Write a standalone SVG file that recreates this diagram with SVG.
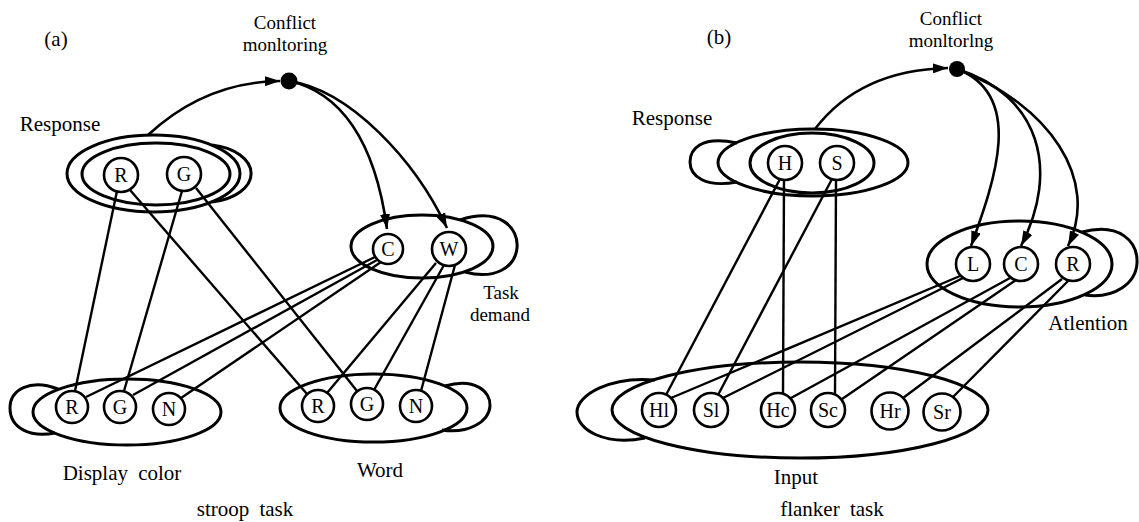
<svg xmlns="http://www.w3.org/2000/svg" width="1139" height="522" viewBox="0 0 1139 522">
<style>
.e{fill:none;stroke:#000;stroke-width:3}
.u{fill:#fff;stroke:#000;stroke-width:2.6}
.l{fill:none;stroke:#000;stroke-width:2.4}
.a{fill:none;stroke:#000;stroke-width:2.6;marker-end:url(#ah)}
text{font-family:"Liberation Serif","Times New Roman",serif;font-size:21px;fill:#000;text-anchor:middle}
.t{font-size:20px}
.s{font-size:19px}
</style>
<defs>
<marker id="ah" markerUnits="userSpaceOnUse" markerWidth="16" markerHeight="10" refX="15" refY="5" orient="auto"><path d="M0,0 L15,5 L0,10 Z" fill="#000"/></marker>
</defs>
<rect width="1139" height="522" fill="#fff"/>

<!-- panel titles -->
<text x="56" y="46">(a)</text>
<text class="s" x="285" y="29">Conflict</text>
<text class="s" x="285" y="50.5">monltoring</text>
<text x="245" y="516" word-spacing="5">stroop task</text>
<text x="719" y="44">(b)</text>
<text class="s" x="951" y="25">Conflict</text>
<text class="s" x="951" y="46.5">monltorlng</text>
<text x="832" y="516" word-spacing="5">flanker task</text>

<!-- layers (a) -->
<g id="response-a">
<ellipse class="e" cx="153.5" cy="173.5" rx="86.5" ry="38.5"/>
<ellipse class="e" cx="156" cy="174" rx="74" ry="31"/>
<path class="e" d="M212 145 A48 29 0 0 1 212 202"/>
<text x="60" y="131">Response</text>
</g>
<g id="task-a">
<ellipse class="e" cx="422" cy="246.5" rx="71" ry="31.5"/>
<path class="e" d="M460 220 C500 207 519 228 517 248 C515 268 494 280 465 272"/>
<text class="s" x="501" y="299">Task</text>
<text class="s" x="500" y="320.5">demand</text>
</g>
<g id="display-a">
<ellipse class="e" cx="127" cy="412" rx="94" ry="33"/>
<path class="e" d="M58 389 C30 378 10 390 10 408 C10 428 30 438 55 433"/>
<text x="122" y="480" word-spacing="5">Display color</text>
</g>
<g id="word-a">
<ellipse class="e" cx="373.5" cy="408" rx="93.5" ry="34"/>
<path class="e" d="M445 386 C475 377 491 392 490 406 C489 422 468 434 442 430"/>
<text x="380" y="477">Word</text>
</g>

<!-- layers (b) -->
<g id="response-b">
<ellipse class="e" cx="813" cy="162.5" rx="95" ry="33.5"/>
<ellipse class="e" cx="812" cy="163" rx="62" ry="30"/>
<path class="e" d="M737 143 C700 135 690 150 690 162 C690 176 705 188 737 182"/>
<text x="672" y="125">Response</text>
</g>
<g id="attention-b">
<ellipse class="e" cx="1019.5" cy="264" rx="92.5" ry="43"/>
<path class="e" d="M1082 232 C1120 222 1138 242 1137 263 C1136 283 1115 299 1085 295"/>
<text x="1088" y="330">Atlention</text>
</g>
<g id="input-b">
<ellipse class="e" cx="800" cy="410" rx="188" ry="48"/>
<path class="e" d="M655 380 C610 376 577 395 577 412 C577 430 605 446 645 438"/>
<text x="796" y="484">Input</text>
</g>

<!-- connectors -->
<g id="connectors">
<path class="a" d="M148 135 Q205 82 280 81"/>
<path class="a" d="M289 81 C340 92 375 140 387 229"/>
<path class="a" d="M289 81 C350 90 415 160 447 228"/>
<line class="l" x1="117" y1="191" x2="75" y2="391"/>
<line class="l" x1="130" y1="190" x2="307" y2="394"/>
<line class="l" x1="182" y1="191" x2="124" y2="391"/>
<line class="l" x1="196" y1="188" x2="357" y2="391"/>
<line class="l" x1="375" y1="257" x2="86" y2="397"/>
<line class="l" x1="377" y1="260" x2="133" y2="395"/>
<line class="l" x1="381" y1="262" x2="181" y2="398"/>
<line class="l" x1="436" y1="263" x2="327" y2="393"/>
<line class="l" x1="444" y1="265" x2="374" y2="390"/>
<line class="l" x1="455" y1="265" x2="421" y2="391"/>

<path class="a" d="M815 129 Q860 70 948 68"/>
<path class="a" d="M957 69 C1025 95 995 180 971 246"/>
<path class="a" d="M957 69 C1040 95 1060 170 1021 246"/>
<path class="a" d="M957 69 C1050 105 1100 180 1068 246"/>
<line class="l" x1="780" y1="179" x2="666" y2="395"/>
<line class="l" x1="784" y1="180" x2="783" y2="394"/>
<line class="l" x1="832" y1="179" x2="718" y2="395"/>
<line class="l" x1="836" y1="180" x2="835" y2="394"/>
<line class="l" x1="960" y1="276" x2="671" y2="398"/>
<line class="l" x1="963" y1="278" x2="723" y2="398"/>
<line class="l" x1="1010" y1="278" x2="791" y2="398"/>
<line class="l" x1="1016" y1="280" x2="842" y2="399"/>
<line class="l" x1="1062" y1="279" x2="903" y2="398"/>
<line class="l" x1="1068" y1="281" x2="953" y2="397"/>
</g>

<!-- conflict monitoring nodes -->
<g id="conflict-a"><circle cx="289" cy="81" r="8.5" fill="#000"/></g>
<g id="conflict-b"><circle cx="957" cy="69" r="8" fill="#000"/></g>

<!-- units (a) -->
<g id="a-resp-R"><circle class="u" cx="121" cy="175" r="17"/><text class="t" x="121" y="182">R</text></g>
<g id="a-resp-G"><circle class="u" cx="184" cy="174" r="17"/><text class="t" x="184" y="181">G</text></g>
<g id="a-task-C"><circle class="u" cx="388" cy="249" r="15"/><text class="t" x="388" y="256">C</text></g>
<g id="a-task-W"><circle class="u" cx="449" cy="249" r="17"/><text class="t" x="449" y="256">W</text></g>
<g id="a-disp-R"><circle class="u" cx="72" cy="407" r="16"/><text class="t" x="72" y="414">R</text></g>
<g id="a-disp-G"><circle class="u" cx="120" cy="407" r="16"/><text class="t" x="120" y="414">G</text></g>
<g id="a-disp-N"><circle class="u" cx="169" cy="409" r="16"/><text class="t" x="169" y="416">N</text></g>
<g id="a-word-R"><circle class="u" cx="318" cy="406" r="16"/><text class="t" x="318" y="413">R</text></g>
<g id="a-word-G"><circle class="u" cx="367" cy="404" r="16"/><text class="t" x="367" y="411">G</text></g>
<g id="a-word-N"><circle class="u" cx="416" cy="406" r="16"/><text class="t" x="416" y="413">N</text></g>

<!-- units (b) -->
<g id="b-resp-H"><circle class="u" cx="785" cy="163" r="17"/><text class="t" x="785" y="170">H</text></g>
<g id="b-resp-S"><circle class="u" cx="837" cy="163" r="17"/><text class="t" x="837" y="170">S</text></g>
<g id="b-att-L"><circle class="u" cx="973" cy="264" r="17"/><text class="t" x="973" y="271">L</text></g>
<g id="b-att-C"><circle class="u" cx="1021" cy="264" r="17"/><text class="t" x="1021" y="271">C</text></g>
<g id="b-att-R"><circle class="u" cx="1073" cy="264" r="17"/><text class="t" x="1073" y="271">R</text></g>
<g id="b-in-Hl"><circle class="u" cx="659" cy="410" r="17"/><text class="t" x="659" y="417">Hl</text></g>
<g id="b-in-Sl"><circle class="u" cx="711" cy="410" r="17"/><text class="t" x="711" y="417">Sl</text></g>
<g id="b-in-Hc"><circle class="u" cx="778" cy="410" r="17"/><text class="t" x="778" y="417">Hc</text></g>
<g id="b-in-Sc"><circle class="u" cx="828" cy="410" r="17"/><text class="t" x="828" y="417">Sc</text></g>
<g id="b-in-Hr"><circle class="u" cx="890" cy="411" r="18.5"/><text class="t" x="890" y="418">Hr</text></g>
<g id="b-in-Sr"><circle class="u" cx="942" cy="412" r="18.5"/><text class="t" x="942" y="419">Sr</text></g>
</svg>
